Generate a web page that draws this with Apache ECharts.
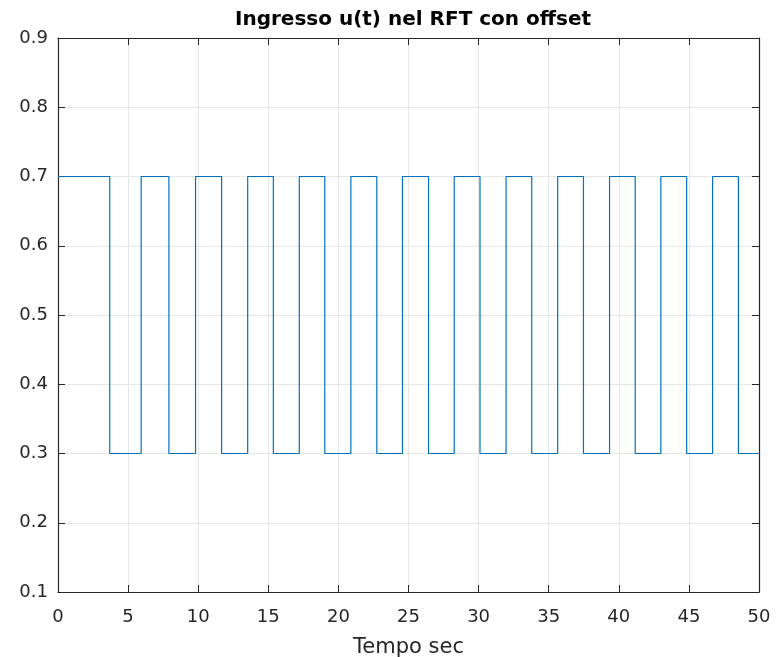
<!DOCTYPE html>
<html>
<head>
<meta charset="utf-8">
<script src="https://cdn.jsdelivr.net/npm/echarts@6/dist/echarts.min.js"></script>
<style>html,body{margin:0;padding:0;background:#fff;}#c{width:776px;height:657px;}</style>
</head>
<body>
<div id="c"></div>
<script>
// Switching instants (s) and the level held from each instant onward
const switchTimes = [0, 3.69, 5.93, 7.91, 9.81, 11.67, 13.53, 15.36, 17.21, 19.03, 20.89, 22.74, 24.57, 26.43, 28.26, 30.10, 31.96, 33.79, 35.64, 37.48, 39.34, 41.17, 43.00, 44.84, 46.69, 48.53, 50];
const levels      = [0.7, 0.3, 0.7, 0.3, 0.7, 0.3, 0.7, 0.3, 0.7, 0.3, 0.7, 0.3, 0.7, 0.3, 0.7, 0.3, 0.7, 0.3, 0.7, 0.3, 0.7, 0.3, 0.7, 0.3, 0.7, 0.3, 0.3];
const xTicks = [0, 5, 10, 15, 20, 25, 30, 35, 40, 45, 50];
const yTicks = [0.1, 0.2, 0.3, 0.4, 0.5, 0.6, 0.7, 0.8, 0.9];
const titleText = 'Ingresso u(t) nel RFT con offset';
const xLabel = 'Tempo sec';

const data = switchTimes.map((t, i) => [t, levels[i]]);
const font = 'DejaVu Sans';
const axisCol = '#262626';
const gridCol = '#e6e6e6';

const chart = echarts.init(document.getElementById('c'), null, {renderer: 'canvas'});
const baseX = {
  type: 'value', min: 0, max: 50, interval: 5,
  axisLine: {show: true, onZero: false, lineStyle: {color: axisCol, width: 1.2}},
  axisTick: {show: true, inside: true, length: 7, lineStyle: {color: axisCol, width: 1}},
};
const baseY = {
  type: 'value', min: 0.1, max: 0.9, interval: 0.1,
  axisLine: {show: true, onZero: false, lineStyle: {color: axisCol, width: 1.2}},
  axisTick: {show: true, inside: true, length: 7, lineStyle: {color: axisCol, width: 1}},
};
chart.setOption({
  animation: false,
  backgroundColor: '#fff',
  title: {
    text: titleText, left: 408, top: 5, textAlign: 'center',
    textStyle: {fontFamily: font, fontWeight: 'bold', fontSize: 20, color: '#000'}
  },
  grid: {left: 58, right: 17, top: 38, bottom: 65, containLabel: false, outerBoundsMode: 'none'},
  xAxis: [
    Object.assign({}, baseX, {
      position: 'bottom',
      name: xLabel, nameLocation: 'middle', nameGap: 45,
      nameTextStyle: {fontFamily: font, fontSize: 21, color: axisCol},
      axisLabel: {show: true, fontFamily: font, fontSize: 18, color: axisCol, margin: 16,
        formatter: v => xTicks.includes(v) ? String(v) : ''},
      splitLine: {show: true, lineStyle: {color: gridCol, width: 1}}
    }),
    Object.assign({}, baseX, {
      position: 'top',
      axisLabel: {show: false},
      splitLine: {show: false}
    })
  ],
  yAxis: [
    Object.assign({}, baseY, {
      position: 'left',
      axisLabel: {show: true, fontFamily: font, fontSize: 18, color: axisCol, margin: 10,
        formatter: v => yTicks.some(t => Math.abs(t - v) < 1e-9) ? v.toFixed(1) : ''},
      splitLine: {show: true, lineStyle: {color: gridCol, width: 1}}
    }),
    Object.assign({}, baseY, {
      position: 'right',
      axisLabel: {show: false},
      splitLine: {show: false}
    })
  ],
  series: [{
    type: 'line', step: 'end', data: data, showSymbol: false, symbol: 'none',
    xAxisIndex: 0, yAxisIndex: 0,
    lineStyle: {color: '#0072BD', width: 1.2}
  }]
});
</script>
</body>
</html>
